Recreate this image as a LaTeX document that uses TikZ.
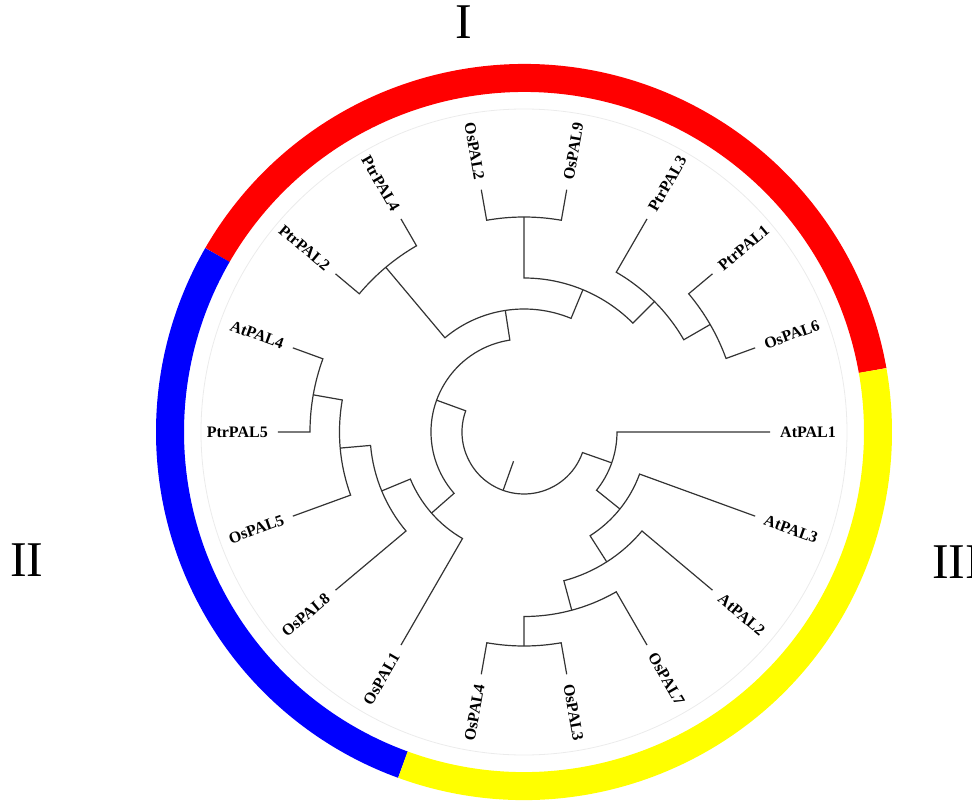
\documentclass[tikz,border=0pt]{standalone}
\usepackage{fontspec}
\setmainfont{Liberation Serif}
\begin{document}
\begin{tikzpicture}[x=1pt,y=1pt,
  branch/.style={draw=black!80, line width=1.2pt, line join=miter},
  leaflab/.style={font=\bfseries\fontsize{16}{18}\selectfont, inner sep=0pt},
  roman/.style={font=\fontsize{50}{60}\selectfont, inner sep=0pt},
  ringseg/.style={line width=28pt, line cap=butt}]
\useasboundingbox (-524,-369) rectangle (448,432);
% faint guide circle
\draw[black!8, line width=0.8pt] (0,0) circle[radius=323];
% coloured ring
\draw[ringseg, draw={rgb,255:red,255;green,0;blue,0}] (10:354) arc[start angle=10,end angle=150,radius=354];
\draw[ringseg, draw={rgb,255:red,0;green,0;blue,255}] (150:354) arc[start angle=150,end angle=250,radius=354];
\draw[ringseg, draw={rgb,255:red,255;green,255;blue,0}] (250:354) arc[start angle=250,end angle=370,radius=354];
% clade numerals
\node[roman, anchor=base] (cI) at (-60,393) {I};
\node[roman, anchor=base] (cII) at (-497,-144) {II};
\node[roman, anchor=base west] (cIII) at (408,-146) {III};
% leaf labels and tips
\foreach \a/\n/\r/\an in {0/AtPAL1/0/west, 20/OsPAL6/20/west, 40/PtrPAL1/40/west,
  60/PtrPAL3/60/west, 80/OsPAL9/80/west, 100/OsPAL2/-80/east, 120/PtrPAL4/-60/east,
  140/PtrPAL2/-40/east, 160/AtPAL4/-20/east, 180/PtrPAL5/0/east, 200/OsPAL5/20/east,
  220/OsPAL8/40/east, 240/OsPAL1/60/east, 260/OsPAL4/80/east, 280/OsPAL3/280/west,
  300/OsPAL7/300/west, 320/AtPAL2/320/west, 340/AtPAL3/340/west}{
  \coordinate (t\n) at (\a:246);
  \node[leaflab, anchor=\an, rotate=\r] (l\n) at (\a:256) {\n};
}
% internal node coordinates
\coordinate (root) at (250.31:62);
\coordinate (rootbase) at (250.31:31);
% clade I
\draw[branch] (tOsPAL6) -- (20:215) arc[start angle=20,end angle=40,radius=215] -- (tPtrPAL1);
\draw[branch] (tPtrPAL3) -- (60:184.5) arc[start angle=60,end angle=30,radius=184.5] -- (30:215);
\draw[branch] (tOsPAL9) -- (80:215) arc[start angle=80,end angle=100,radius=215] -- (tOsPAL2);
\draw[branch] (45:184.5) -- (45:154) arc[start angle=45,end angle=90,radius=154] -- (90:215);
\draw[branch] (tPtrPAL4) -- (120:215) arc[start angle=120,end angle=140,radius=215] -- (tPtrPAL2);
\draw[branch] (67.5:154) -- (67.5:123) arc[start angle=67.5,end angle=130,radius=123] -- (130:215);
% clade II
\draw[branch] (tAtPAL4) -- (160:214) arc[start angle=160,end angle=180,radius=214] -- (tPtrPAL5);
\draw[branch] (170:214) -- (170:184.5) arc[start angle=170,end angle=200,radius=184.5] -- (tOsPAL5);
\draw[branch] (185:184.5) -- (185:154) arc[start angle=185,end angle=220,radius=154] -- (tOsPAL8);
\draw[branch] (202.5:154) -- (202.5:123) arc[start angle=202.5,end angle=240,radius=123] -- (tOsPAL1);
\draw[branch] (98.75:123) -- (98.75:93) arc[start angle=98.75,end angle=221.25,radius=93] -- (221.25:123);
% clade III
\draw[branch] (tOsPAL4) -- (260:214) arc[start angle=260,end angle=280,radius=214] -- (tOsPAL3);
\draw[branch] (270:214) -- (270:184.5) arc[start angle=270,end angle=300,radius=184.5] -- (tOsPAL7);
\draw[branch] (285:184.5) -- (285:154) arc[start angle=285,end angle=320,radius=154] -- (tAtPAL2);
\draw[branch] (302.5:154) -- (302.5:123) arc[start angle=302.5,end angle=340,radius=123] -- (tAtPAL3);
\draw[branch] (321.25:123) -- (321.25:93) arc[start angle=321.25,end angle=360,radius=93] -- (tAtPAL1);
% root
\draw[branch] (160:93) -- (160:62) arc[start angle=160,end angle=340.625,radius=62] -- (340.625:93);
\draw[branch] (rootbase) -- (root);
\end{tikzpicture}
\end{document}
